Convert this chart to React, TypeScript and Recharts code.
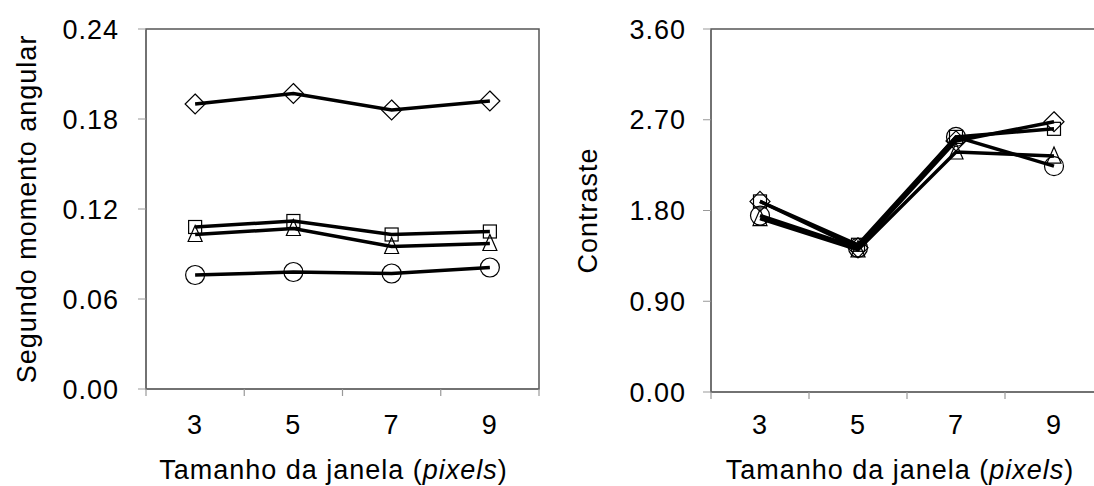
import { LineChart, Line, XAxis, YAxis, ReferenceArea, Label } from 'recharts';

const windowSizes = [3, 5, 7, 9];
const xTicks = [2, 3, 4, 5, 6, 7, 8, 9, 10];

// Segundo momento angular
const asmDiamond = [0.190, 0.197, 0.186, 0.192];
const asmSquare = [0.108, 0.112, 0.103, 0.105];
const asmTriangle = [0.103, 0.107, 0.095, 0.097];
const asmCircle = [0.076, 0.078, 0.077, 0.081];
const asmTicks = [0, 0.06, 0.12, 0.18, 0.24];

// Contraste
const conDiamond = [1.89, 1.43, 2.49, 2.68];
const conSquare = [1.89, 1.46, 2.53, 2.61];
const conTriangle = [1.72, 1.41, 2.38, 2.34];
const conCircle = [1.75, 1.43, 2.53, 2.24];
const conTicks = [0, 0.9, 1.8, 2.7, 3.6];

const asmData = windowSizes.map((w, i) => ({
  w,
  diamond: asmDiamond[i],
  square: asmSquare[i],
  triangle: asmTriangle[i],
  circle: asmCircle[i],
}));

const conData = windowSizes.map((w, i) => ({
  w,
  diamond: conDiamond[i],
  square: conSquare[i],
  triangle: conTriangle[i],
  circle: conCircle[i],
}));

const FONT = '"Liberation Sans", Arial, sans-serif';
const textStyle = { fontFamily: FONT, fontSize: 27, letterSpacing: 1, fill: '#000' };

function marker(shape: string) {
  return (props: any) => {
    const { cx, cy, index } = props;
    const common = { key: `${shape}-${index}`, fill: 'none', stroke: '#000', strokeWidth: 1.2 };
    if (shape === 'circle') return <circle {...common} cx={cx} cy={cy} r={9.5} />;
    if (shape === 'square') return <rect {...common} x={cx - 6.5} y={cy - 6.5} width={13} height={13} />;
    if (shape === 'diamond')
      return <polygon {...common} points={`${cx},${cy - 10} ${cx + 10},${cy} ${cx},${cy + 10} ${cx - 10},${cy}`} />;
    return <polygon {...common} points={`${cx},${cy - 9} ${cx + 7},${cy + 7} ${cx - 7},${cy + 7}`} />;
  };
}

const makeXTick = (labelOffset: number) => (props: any) => {
  const { x, y, payload } = props;
  const v = payload.value;
  if (v % 2 === 0) {
    return <line x1={x} y1={y} x2={x} y2={y + 7} stroke="#999" strokeWidth={1.2} />;
  }
  return (
    <text x={x} y={y + labelOffset} textAnchor="middle" dominantBaseline="central" style={textStyle}>
      {v}
    </text>
  );
};

const makeXTitle = (dx: number, baseline: number) => (props: any) => {
  const vb = props.viewBox;
  return (
    <text x={vb.x + vb.width / 2 + dx} y={vb.y + baseline} textAnchor="middle" style={textStyle}>
      Tamanho da janela (<tspan fontStyle="italic">pixels</tspan>)
    </text>
  );
};

const makeYTitle = (title: string, xPos: number) => (props: any) => {
  const vb = props.viewBox;
  const cy = vb.y + vb.height / 2;
  return (
    <text
      x={xPos}
      y={cy}
      textAnchor="middle"
      dominantBaseline="central"
      transform={`rotate(-90, ${xPos}, ${cy})`}
      style={textStyle}
    >
      {title}
    </text>
  );
};

const series = ['diamond', 'square', 'triangle', 'circle'];

function Panel(props: {
  data: any[];
  yMax: number;
  yTicks: number[];
  yTitle: string;
  yTitleX: number;
  axisWidth: number;
  margin: any;
  tickMargin: number;
  labelOffset: number;
  titleDx: number;
  titleBaseline: number;
}) {
  const p = props;
  return (
    <LineChart width={560} height={486} data={p.data} margin={p.margin}>
      <XAxis
        dataKey="w"
        type="number"
        domain={[2, 10]}
        ticks={xTicks}
        interval={0}
        tickSize={0}
        tickMargin={0}
        height={60}
        stroke="#666"
        tick={makeXTick(p.labelOffset)}
      >
        <Label content={makeXTitle(p.titleDx, p.titleBaseline)} />
      </XAxis>
      <YAxis
        type="number"
        domain={[0, p.yMax]}
        ticks={p.yTicks}
        interval={0}
        width={p.axisWidth}
        tickSize={8}
        tickMargin={p.tickMargin}
        tickLine={{ stroke: '#999' }}
        stroke="#666"
        tick={textStyle}
        tickFormatter={(v: number) => v.toFixed(2)}
      >
        <Label content={makeYTitle(p.yTitle, p.yTitleX)} />
      </YAxis>
      <ReferenceArea x1={2} x2={10} y1={0} y2={p.yMax} fill="none" stroke="#555" strokeWidth={1.5} />
      {series.map((s) => (
        <Line
          key={s}
          dataKey={s}
          stroke="#000"
          strokeWidth={3.5}
          dot={marker(s)}
          activeDot={false}
          isAnimationActive={false}
        />
      ))}
    </LineChart>
  );
}

export default function App() {
  return (
    <div
      style={{
        position: 'absolute',
        left: 0,
        top: 0,
        width: 1094,
        height: 486,
        overflow: 'hidden',
        background: '#fff',
      }}
    >
      <div style={{ position: 'absolute', left: 0, top: 0 }}>
        <Panel
          data={asmData}
          yMax={0.24}
          yTicks={asmTicks}
          yTitle="Segundo momento angular"
          yTitleX={27}
          axisWidth={146}
          margin={{ top: 29, right: 21, bottom: 37, left: 0 }}
          tickMargin={19}
          labelOffset={36}
          titleDx={-9}
          titleBaseline={90}
        />
      </div>
      <div style={{ position: 'absolute', left: 560, top: 0 }}>
        <Panel
          data={conData}
          yMax={3.6}
          yTicks={conTicks}
          yTitle="Contraste"
          yTitleX={28}
          axisWidth={151}
          margin={{ top: 29, right: 17, bottom: 34, left: 0 }}
          tickMargin={17}
          labelOffset={33}
          titleDx={-7}
          titleBaseline={87}
        />
      </div>
    </div>
  );
}
